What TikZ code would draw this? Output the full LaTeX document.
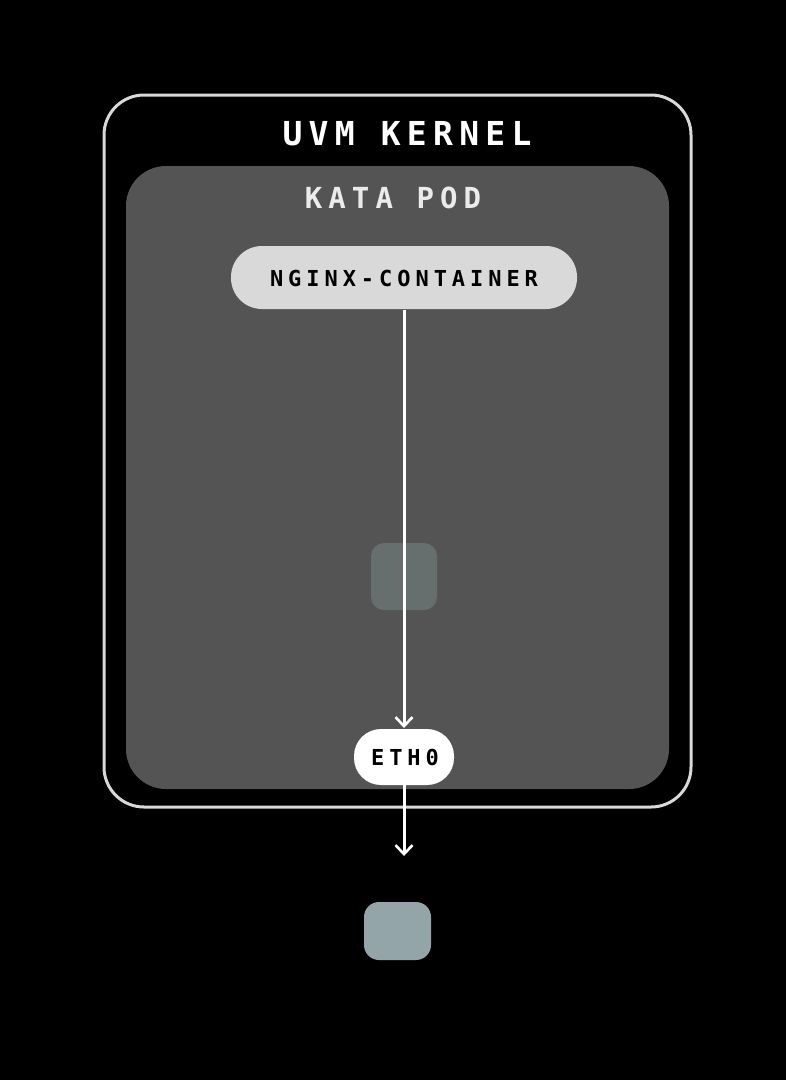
\documentclass[tikz,border=0pt]{standalone}
\usepackage{fontspec}
\usetikzlibrary{arrows.meta}
\newfontfamily\monoTitle[LetterSpace=19]{DejaVu Sans Mono}
\newfontfamily\monoPod[LetterSpace=21]{DejaVu Sans Mono}
\newfontfamily\monoBox[LetterSpace=22.5]{DejaVu Sans Mono}
\definecolor{frame}{HTML}{D9D9D9}
\definecolor{pod}{HTML}{545454}
\definecolor{pill}{HTML}{D9D9D9}
\definecolor{ghost}{HTML}{676E6E}
\definecolor{peer}{HTML}{93A5A8}
\tikzset{
  lbl/.style={inner sep=0pt},
  flow/.style={draw=white, line width=3pt, -{Straight Barb[length=9pt,width=17pt,line width=2.6pt]}},
}
\begin{document}
\begin{tikzpicture}[x=1pt,y=-1pt]
\useasboundingbox (0,0) rectangle (786,1080);
\fill[black] (0,0) rectangle (786,1080);
% outer UVM kernel frame
\draw[frame, line width=3pt, rounded corners=40pt, fill=black] (104,95) rectangle (691,807);
\node[lbl, text=white, font=\monoTitle\bfseries\fontsize{33}{33}\selectfont] (uvm) at (407,134) {UVM KERNEL};
% kata pod
\fill[pod, rounded corners=40pt] (126,166) rectangle (669,789);
\node[lbl, text=white!92!black, font=\monoPod\bfseries\fontsize{29}{29}\selectfont] (kata) at (393,198) {KATA POD};
% nginx container
\path[fill=pill, rounded corners=31pt] (231,246) rectangle (577,309);
\node[lbl, text=black, font=\monoBox\bfseries\fontsize{22}{22}\selectfont] (nginx) at (404,278) {NGINX-CONTAINER};
\coordinate (nginxb) at (404,310);
% ghost square
\fill[ghost, rounded corners=13pt] (371,543) rectangle (437,610);
\coordinate (ghost) at (404,576);
% eth0
\fill[white, rounded corners=27pt] (354,729) rectangle (454,785);
\node[lbl, text=black, font=\monoBox\bfseries\fontsize{22}{22}\selectfont] (eth) at (405,757) {ETH0};
\coordinate (etht) at (404,728);
\coordinate (ethb) at (404,785);
% peer square
\fill[peer, rounded corners=15pt] (364,902) rectangle (431,960);
\coordinate (peer) at (404,856);
% connectors
\draw[flow] (nginxb) -- (etht);
\draw[flow] (ethb) -- (peer);
\end{tikzpicture}
\end{document}
